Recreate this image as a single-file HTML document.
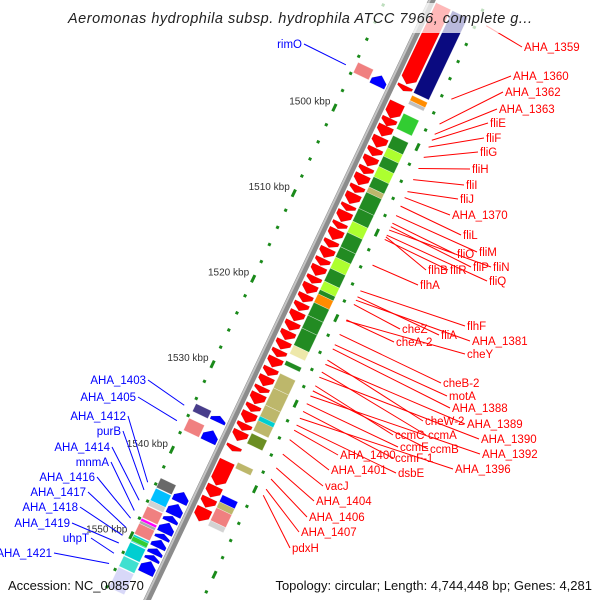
<!DOCTYPE html>
<html><head><meta charset="utf-8"><style>
html,body{margin:0;padding:0;background:#fff;width:600px;height:600px;overflow:hidden}
svg{display:block;font-family:"Liberation Sans",sans-serif}
</style></head><body>
<svg id="map" width="600" height="600" viewBox="0 0 600 600" xmlns="http://www.w3.org/2000/svg">
<rect width="600" height="600" fill="#fff"/>
<g id="rot" transform="translate(432,0) rotate(115.4)"></g>
<g id="labels"></g>
<rect x="0" y="3" width="600" height="30" fill="#fff" opacity="0.72"/>
<text x="300" y="23" text-anchor="middle" font-size="14.5" font-style="italic" fill="#222" textLength="464">Aeromonas hydrophila subsp. hydrophila ATCC 7966, complete g...</text>
<text x="8" y="590" font-size="13" fill="#111">Accession: NC_008570</text>
<text x="592" y="590" text-anchor="end" font-size="13" fill="#111">Topology: circular; Length: 4,744,448 bp; Genes: 4,281</text>
</svg>
<script>
// ---- data ----
const fwdGenes = [[1485.4,1494.5],[1494.7,1495.3],[1496.7,1498.5],[1498.5,1499.4],[1499.4,1500.6],[1500.7,1501.9],[1502.0,1502.9],[1503.0,1504.1],[1504.2,1505.0],[1505.1,1506.3],[1506.4,1507.2],[1507.3,1508.5],[1508.6,1509.3],[1509.4,1510.6],[1510.7,1511.4],[1511.5,1512.7],[1512.8,1513.6],[1513.7,1514.8],[1514.9,1515.7],[1515.8,1516.9],[1517.0,1517.8],[1517.9,1519.0],[1519.1,1520.0],[1520.1,1521.0],[1521.1,1522.2],[1522.3,1523.3],[1523.4,1524.4],[1524.5,1525.5],[1525.6,1526.4],[1526.5,1527.6],[1527.7,1528.6],[1528.7,1529.8],[1529.9,1530.6],[1530.7,1531.9],[1532.0,1532.8],[1532.9,1534.1],[1534.2,1535.0],[1535.1,1536.2],[1536.8,1537.4],[1538.6,1541.4],[1541.5,1542.8],[1542.9,1544.0],[1544.1,1545.6]];
const fwdCog = [[1485.4,1495.0,"#0a0a80"],[1495.3,1495.9,"#ff8c00"],[1495.9,1496.3,"#c0c0c0"],[1497.4,1499.2,"#32cd32"],[1500.0,1501.4,"#228b22"],[1501.4,1502.4,"#adff2f"],[1502.4,1503.6,"#228b22"],[1503.6,1504.8,"#adff2f"],[1504.8,1506.0,"#228b22"],[1506.0,1506.6,"#bdb76b"],[1506.6,1508.5,"#228b22"],[1508.5,1510.0,"#228b22"],[1510.0,1511.3,"#adff2f"],[1511.3,1513.0,"#228b22"],[1513.0,1514.2,"#228b22"],[1514.2,1515.5,"#adff2f"],[1515.5,1517.0,"#228b22"],[1517.0,1518.0,"#adff2f"],[1518.0,1518.5,"#228b22"],[1518.5,1519.5,"#ff8c00"],[1519.5,1521.0,"#228b22"],[1521.0,1522.5,"#228b22"],[1522.5,1524.5,"#228b22"],[1524.5,1525.5,"#eee8aa"],[1526.3,1526.8,"#228b22"],[1527.8,1529.5,"#bdb76b"],[1529.5,1531.5,"#bdb76b"],[1531.5,1534.5,"#bdb76b"],[1532.8,1533.3,"#00ced1"],[1534.8,1536.0,"#6b8e23"],[1538.2,1538.9,"#bdb76b"],[1542.0,1542.8,"#0000ff"],[1542.8,1543.5,"#bdb76b"],[1543.5,1545.0,"#f08080"],[1545.0,1545.6,"#d3d3d3"]];
const revGenes = [[1494.8,1496.0],[1534.6,1535.3],[1536.3,1537.6],[1543.5,1544.7],[1544.9,1546.2],[1546.3,1547.0],[1547.1,1548.3],[1548.4,1549.0],[1549.1,1550.0],[1550.1,1550.8],[1550.9,1551.5],[1551.6,1553.0]];
const revCog = [[1494.6,1495.8,"#f08080"],[1534.5,1535.4,"#483d8b"],[1536.2,1537.6,"#f08080"],[1543.2,1544.3,"#696969"],[1544.4,1545.8,"#00bfff"],[1545.8,1546.4,"#d3d3d3"],[1546.5,1547.8,"#f08080"],[1547.9,1548.2,"#ff00ff"],[1548.2,1548.5,"#a9a9a9"],[1548.5,1549.7,"#f08080"],[1549.8,1550.6,"#00ced1"],[1550.0,1550.5,"#32cd32"],[1550.7,1552.2,"#00ced1"],[1552.3,1553.5,"#40e0d0"],[1553.6,1556.0,"#d8d8f8"]];
const tickKbp = [1480,1482,1484,1486,1488,1490,1492,1494,1496,1498,1500,1502,1504,1506,1508,1510,1512,1514,1516,1518,1520,1522,1524,1526,1528,1530,1532,1534,1536,1538,1540,1542,1544,1546,1548,1550,1552,1554,1556,1558,1560];
const majorLabels = ["1500 kbp","1510 kbp","1520 kbp","1530 kbp","1540 kbp","1550 kbp"];
const majorKbp = [1500,1510,1520,1530,1540,1550];
const rightLabelText = ["AHA_1359","AHA_1360","AHA_1362","AHA_1363","fliE","fliF","fliG","fliH","fliI","fliJ","AHA_1370","fliL","fliM","fliO","fliP","fliN","fliQ","fliR","flhB","flhA","flhF","fliA","AHA_1381","cheZ","cheA-2","cheY","cheB-2","motA","AHA_1388","cheW-2","AHA_1389","ccmA","AHA_1390","ccmC","ccmB","AHA_1392","ccmE","ccmF-1","AHA_1396","dsbE","AHA_1400","AHA_1401","vacJ","AHA_1404","AHA_1406","AHA_1407","pdxH"];
const rightLabelKbp = [1485.3,1493.9,1496.8,1498.0,1498.7,1499.5,1500.7,1502.0,1503.3,1504.7,1505.4,1506.4,1507.5,1508.4,1508.8,1509.2,1509.8,1510.3,1510.0,1513.3,1516.3,1517.0,1517.4,1517.9,1519.7,1519.8,1521.4,1522.6,1523.1,1524.4,1524.9,1525.8,1526.4,1527.4,1528.0,1528.6,1529.5,1530.4,1531.2,1532.0,1532.6,1533.7,1535.4,1537.0,1538.3,1539.5,1540.2];
const rightLabelPos = [[524,47],[513,76],[505,92],[499,109],[490,123],[486,138],[480,152],[472,169],[466,185],[460,199],[452,215],[463,235],[479,252],[457,254],[473,267],[493,267],[489,281],[450,270],[428,270],[420,285],[467,326],[441,335],[472,341],[402,329],[396,342],[467,354],[443,383],[449,396],[452,408],[425,421],[467,424],[428,435],[481,439],[395,435],[430,449],[482,454],[400,447],[395,458],[455,469],[398,473],[340,455],[331,470],[325,486],[316,501],[309,517],[301,532],[292,548]];
const leftLabelText = ["rimO","AHA_1403","AHA_1405","AHA_1412","purB","AHA_1414","mnmA","AHA_1416","AHA_1417","AHA_1418","AHA_1419","uhpT","AHA_1421"];
const leftLabelKbp = [1495.4,1535.2,1537.0,1544.2,1545.1,1546.3,1547.5,1548.4,1549.5,1550.4,1551.3,1552.5,1553.7];
const leftLabelPos = [[302,44],[146,380],[136,397],[126,416],[121,431],[110,447],[109,462],[95,477],[86,492],[78,507],[70,523],[89,538],[52,553]];

// ---- scales ----
const C = Math.cos(115.4*Math.PI/180), S = Math.sin(115.4*Math.PI/180);
function sx(k){ return (125.6 + (k-1500)*8.55)/0.903; }
function toScreen(a,b){ return [432 + a*C - b*S, a*S + b*C]; }
const NS = "http://www.w3.org/2000/svg";
const rot = document.getElementById('rot');
const lab = document.getElementById('labels');
function mk(tag, attrs, parent){ const e=document.createElementNS(NS,tag); for(const k in attrs) e.setAttribute(k,attrs[k]); parent.appendChild(e); return e; }

// backbone
let bb = mk('line',{x1:-60,y1:0,x2:720,y2:0,stroke:'#8c8c8c','stroke-width':7},rot);


let bb2 = mk('line',{x1:-60,y1:2,x2:720,y2:2,stroke:'#c4c4c4','stroke-width':2},rot);



function arrow(s,e,b0,b1,dir,fill,name){
  const x1=sx(s), x2=sx(e), len=x2-x1, h=Math.min(6,len*0.6), m=(b0+b1)/2;
  let pts;
  if(dir>0) pts=[[x1,b0],[x2-h,b0],[x2,m],[x2-h,b1],[x1,b1]];
  else pts=[[x2,b0],[x1+h,b0],[x1,m],[x1+h,b1],[x2,b1]];
  const p=mk('polygon',{points:pts.map(q=>q.join(',')).join(' '),fill:fill,stroke:'rgba(0,0,0,0.15)','stroke-width':0.5},rot);
  
  
}
function block(s,e,b0,b1,fill,name){
  const r=mk('rect',{x:sx(s),y:b0,width:sx(e)-sx(s),height:b1-b0,fill:fill,stroke:'rgba(255,255,255,0.5)','stroke-width':0.6},rot);
  
  
}
fwdCog.forEach(g=>block(g[0],g[1],-40,-23,g[2],'forward-cog-feature'));
fwdGenes.forEach(g=>arrow(g[0],g[1],-21,-5,1,'#ff0000','forward-gene-arrow'));
revCog.forEach(g=>block(g[0],g[1],23,40,g[2],'reverse-cog-feature'));
revGenes.forEach(g=>arrow(g[0],g[1],5,21,-1,'#0000ff','reverse-gene-arrow'));

// tick rings
tickKbp.forEach(k=>{
  const major = majorKbp.indexOf(k)>=0;
  [42,-50].forEach(b=>{
    const w = major?8:3;
    const t=mk('rect',{x:sx(k)-w/2,y:b-1.5,width:w,height:3,fill:'#1a8a1a'},rot);
    
    
  });
});
majorKbp.forEach((k,i)=>{
  const p=toScreen(sx(k),42);
  const t=mk('text',{x:p[0]-4,y:p[1]-3,'text-anchor':'end','font-size':10,fill:'#333'},lab);
  t.textContent=majorLabels[i];
  
  
});

// labels
rightLabelText.forEach((txt,i)=>{
  const e=toScreen(sx(rightLabelKbp[i]),-60), p=rightLabelPos[i];
  const l=mk('line',{x1:e[0],y1:e[1],x2:p[0]-2,y2:p[1],stroke:'#ff0000','stroke-width':1},lab);
  
  
  const t=mk('text',{x:p[0],y:p[1]+4,'font-size':11.5,fill:'#ff0000'},lab);
  t.textContent=txt;
  
  
});
leftLabelText.forEach((txt,i)=>{
  const e=toScreen(sx(leftLabelKbp[i]),50), p=leftLabelPos[i];
  const l=mk('line',{x1:e[0],y1:e[1],x2:p[0]+2,y2:p[1],stroke:'#0000ff','stroke-width':1},lab);
  
  
  const t=mk('text',{x:p[0],y:p[1]+4,'text-anchor':'end','font-size':11.5,fill:'#0000ff'},lab);
  t.textContent=txt;
  
  
});
</script>
</body></html>
